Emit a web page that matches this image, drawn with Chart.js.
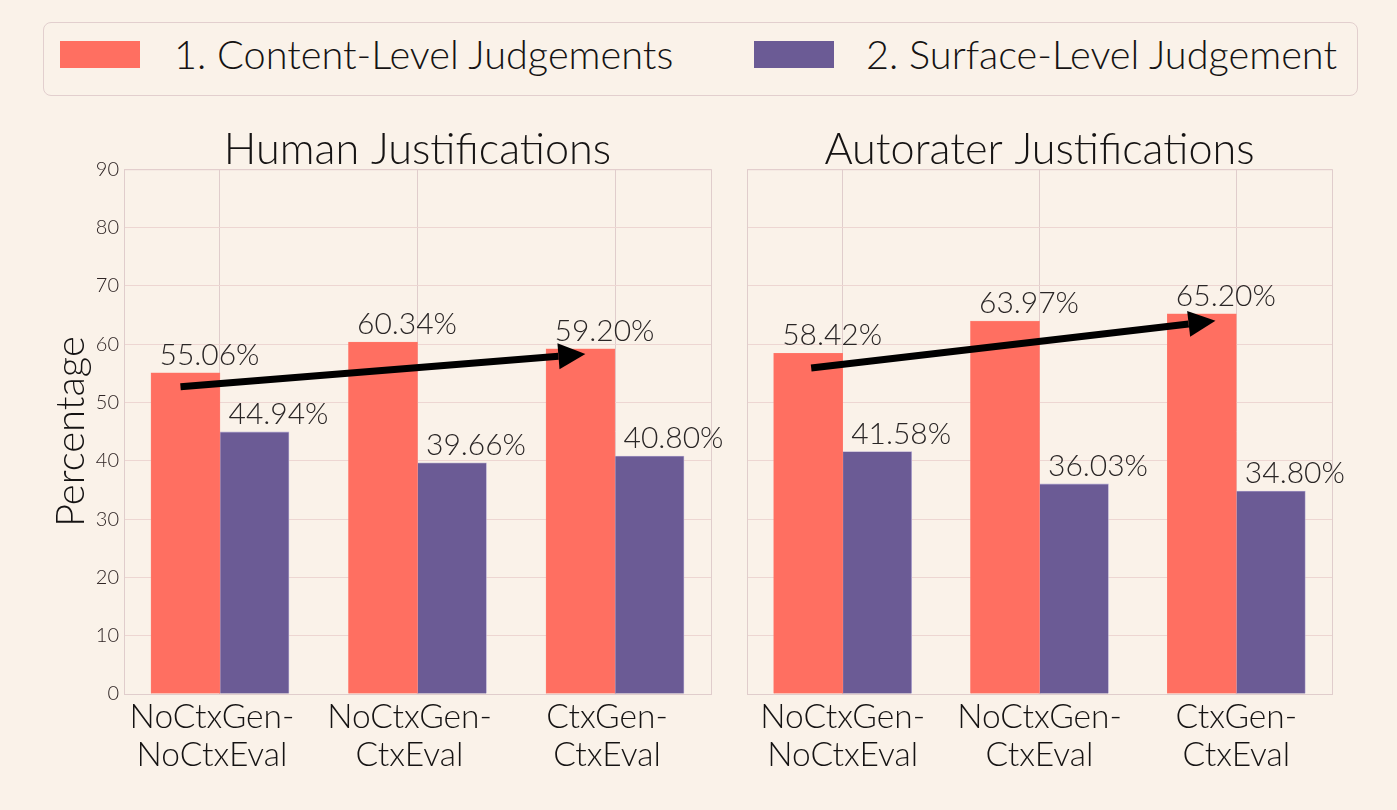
<!DOCTYPE html>
<html><head><meta charset="utf-8">
<script src="https://cdn.jsdelivr.net/npm/chart.js@4"></script>
<style>
html,body{margin:0;padding:0;background:#faf2e9;width:1397px;height:810px;overflow:hidden}
canvas{position:absolute;top:0}
#legend{position:absolute;left:43px;top:22px;width:1313px;height:72px;border:1px solid #e2cfce;border-radius:8px;box-sizing:content-box}
.sw{position:absolute;top:18px;width:80px;height:27px}
.lb{position:absolute;top:7px;font:300 39.7px Lato;color:#151313;white-space:nowrap;line-height:48px}
</style></head><body>
<div id="legend"></div>
<div id="w1"><canvas id="c1" style="left:0"></canvas></div>
<div id="w2"><canvas id="c2" style="left:682px"></canvas></div>
<script>
const FONT = 'Lato';
const categories = ['NoCtxGen-\nNoCtxEval', 'NoCtxGen-\nCtxEval', 'CtxGen-\nCtxEval'];
const seriesNames = ['1. Content-Level Judgements', '2. Surface-Level Judgement'];
const humanContent = [55.06, 60.34, 59.20];
const humanSurface = [44.94, 39.66, 40.80];
const autoContent = [58.42, 63.97, 65.20];
const autoSurface = [41.58, 36.03, 34.80];
const yTicks = [0,10,20,30,40,50,60,70,80,90];
const humanArrow = [[-0.2, 52.7], [1.85, 58.3]];
const autoArrow = [[-0.16, 55.9], [1.894, 64.0]];
const colors = ['#ff6f61', '#6b5b95'];
const gridH = '#edd6d2', gridV = '#e0cdcc', ink = '#151313';

const legend = document.getElementById('legend');
[[16, 130], [710, 822]].forEach((p, i) => {
  const s = document.createElement('div'); s.className = 'sw';
  s.style.left = p[0] + 'px'; s.style.background = colors[i]; legend.appendChild(s);
  const t = document.createElement('div'); t.className = 'lb';
  t.style.left = p[1] + 'px'; t.textContent = seriesNames[i]; legend.appendChild(t);
});

const overlay = (arrow) => ({
  id: 'overlay',
  afterLayout(c) {
    const tb = c.titleBlock, a = c.chartArea;
    tb.left = a.left; tb.right = a.right; tb.top += 2; tb.bottom += 2;
  },
  beforeDatasetsDraw(c) {
    const a = c.chartArea, x = c.ctx;
    x.save(); x.strokeStyle = gridV; x.lineWidth = 1;
    x.strokeRect(a.left + .5, a.top + .5, a.width, a.height); x.restore();
  },
  afterDatasetsDraw(c) {
    const x = c.ctx, sx = c.scales.x, sy = c.scales.y;
    x.save();
    x.font = '300 30px ' + FONT; x.fillStyle = '#2a2626'; x.textAlign = 'center'; x.textBaseline = 'alphabetic';
    c.data.datasets.forEach((d, di) => {
      c.getDatasetMeta(di).data.forEach((bar, i) => {
        x.fillText(d.data[i].y.toFixed(2) + '%', bar.x + 24, bar.y - 8);
      });
    });
    const x0 = sx.getPixelForValue(arrow[0][0]), y0 = sy.getPixelForValue(arrow[0][1]);
    const x1 = sx.getPixelForValue(arrow[1][0]), y1 = sy.getPixelForValue(arrow[1][1]);
    const ang = Math.atan2(y1 - y0, x1 - x0), L = 27, W = 13;
    const bx = x1 - L * Math.cos(ang), by = y1 - L * Math.sin(ang);
    x.strokeStyle = '#000'; x.fillStyle = '#000'; x.lineWidth = 7;
    x.beginPath(); x.moveTo(x0, y0); x.lineTo(bx, by); x.stroke();
    x.beginPath(); x.moveTo(x1, y1);
    x.lineTo(bx - W * Math.sin(ang), by + W * Math.cos(ang));
    x.lineTo(bx + W * Math.sin(ang), by - W * Math.cos(ang));
    x.closePath(); x.fill();
    x.restore();
  }
});

function make(id, w, title, a, b, arrow, isLeft, padL, padR, labelOffset) {
  const cv = document.getElementById(id);
  cv.style.width = w + 'px'; cv.style.height = '810px'; cv.width = w; cv.height = 810;
  const toPts = arr => arr.map((v, i) => ({x: i, y: v}));
  new Chart(cv, {
    type: 'bar',
    data: { datasets: [
      {label: seriesNames[0], data: toPts(a), backgroundColor: colors[0], borderColor: '#ff7f72', borderWidth: 0.5, barThickness: 69},
      {label: seriesNames[1], data: toPts(b), backgroundColor: colors[1], borderColor: '#b5abd0', borderWidth: 0.8, barThickness: 69}
    ]},
    plugins: [overlay(arrow)],
    options: {
      responsive: false, animation: false, devicePixelRatio: 1,
      layout: {padding: {left: padL, right: padR, top: 126, bottom: 0}},
      plugins: {
        legend: {display: false}, tooltip: {enabled: false},
        title: {display: true, text: title, color: ink, font: {family: FONT, size: 43.2, weight: 300, lineHeight: 1}, padding: 0}
      },
      scales: {
        x: {
          type: 'linear', min: -0.486, max: 2.486, offset: false,
          afterBuildTicks: s => { s.ticks = categories.map((_, i) => ({value: i})); },
          afterFit: s => { s.height = 116; },
          grid: {color: gridV, drawTicks: false, offset: false},
          border: {display: false},
          ticks: {
            autoSkip: false, maxRotation: 0, minRotation: 0, padding: 4, labelOffset,
            color: ink, font: {family: FONT, size: 33.5, weight: 300, lineHeight: 1.14},
            callback: v => categories[v] !== undefined ? categories[v].split('\n') : ''
          }
        },
        y: {
          min: 0, max: 90,
          afterBuildTicks: s => { s.ticks = yTicks.map(v => ({value: v})); },
          afterFit: s => { if (isLeft) s.width = 124; else s.width = 0; },
          grid: {color: gridH, drawTicks: false},
          border: {display: false},
          title: {display: isLeft, text: 'Percentage', color: ink, font: {family: FONT, size: 40, weight: 300}, padding: {top: 47, bottom: 0}},
          ticks: {display: isLeft, color: '#2f2525', padding: 5, font: {family: FONT, size: 20, weight: 300}}
        }
      }
    }
  });
}
Promise.all([document.fonts.load('300 20px Lato'), document.fonts.load('20px Lato')]).finally(() => {
  make('c1', 835, 'Human Justifications', humanContent, humanSurface, humanArrow, true, 0, 124, -8);
  make('c2', 715, 'Autorater Justifications', autoContent, autoSurface, autoArrow, false, 65, 65, 0);
});
</script>
</body></html>
